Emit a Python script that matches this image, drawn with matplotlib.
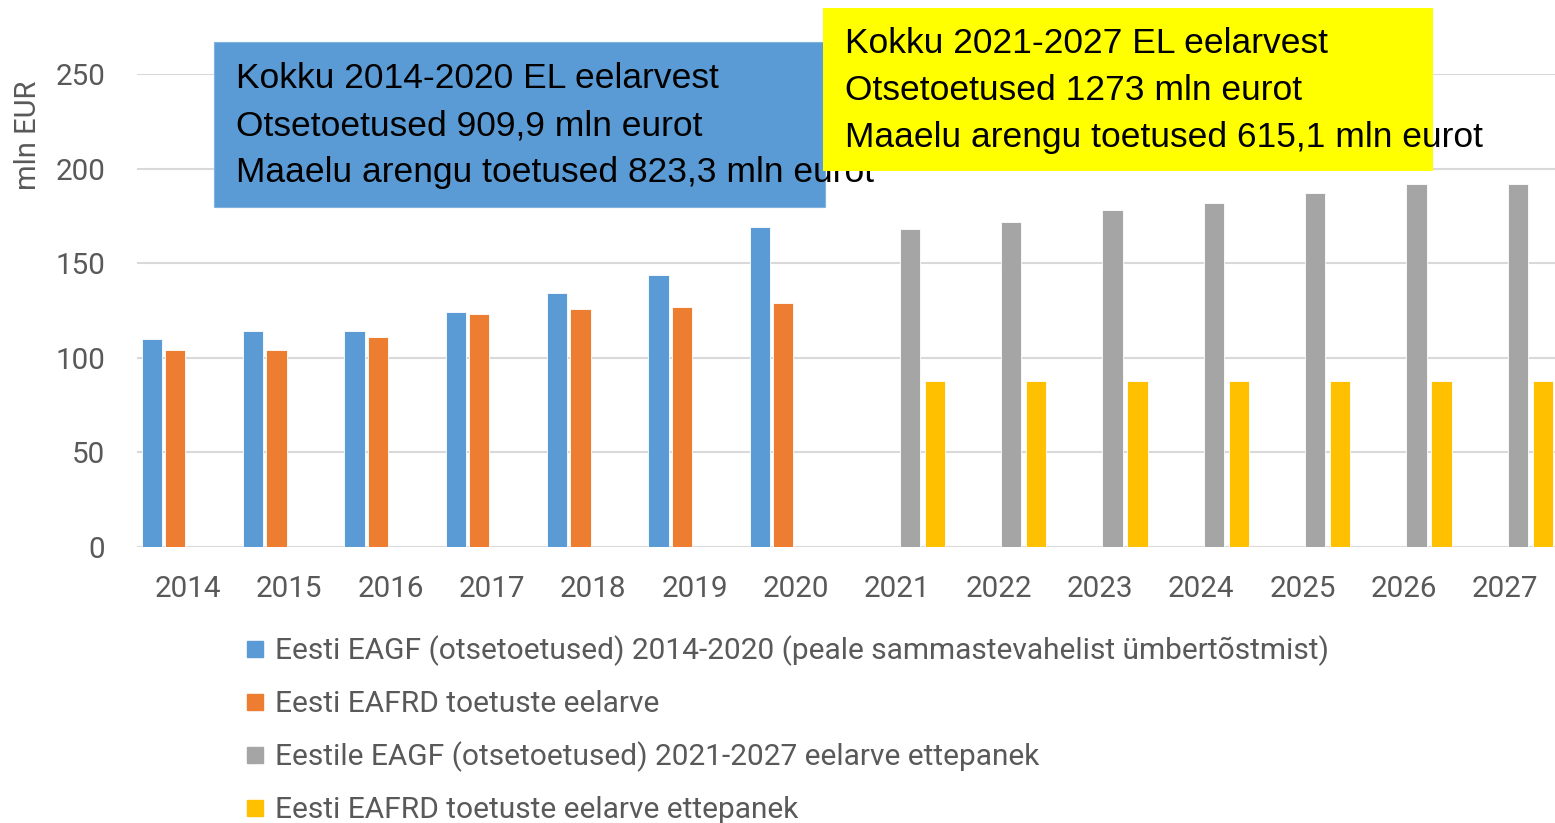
import matplotlib
matplotlib.use("Agg")
import matplotlib.pyplot as plt
from matplotlib.patches import Rectangle
import numpy as np

years = ["2014", "2015", "2016", "2017", "2018", "2019", "2020",
         "2021", "2022", "2023", "2024", "2025", "2026", "2027"]
eagf_old = [110, 114, 114, 124, 134, 144, 169, None, None, None, None, None, None, None]
eafrd_old = [104, 104, 111, 123, 126, 127, 129, None, None, None, None, None, None, None]
eagf_new = [None, None, None, None, None, None, None, 168, 172, 178, 182, 187, 192, 192]
eafrd_new = [None, None, None, None, None, None, None, 88, 88, 88, 88, 88, 88, 88]

series_labels = [
    "Eesti EAGF (otsetoetused) 2014-2020 (peale sammastevahelist ümbertõstmist)",
    "Eesti EAFRD toetuste eelarve",
    "Eestile EAGF (otsetoetused) 2021-2027 eelarve ettepanek",
    "Eesti EAFRD toetuste eelarve ettepanek",
]
series_colors = ["#5B9BD5", "#ED7D31", "#A5A5A5", "#FFC000"]
box1_lines = ["Kokku 2014-2020 EL eelarvest",
              "Otsetoetused 909,9 mln eurot",
              "Maaelu arengu toetused 823,3 mln eurot"]
box2_lines = ["Kokku 2021-2027 EL eelarvest",
              "Otsetoetused 1273 mln eurot",
              "Maaelu arengu toetused 615,1 mln eurot"]

W, H = 1555, 823
fig = plt.figure(figsize=(W / 100, H / 100), dpi=100)

def fx(px):
    return px / W

def fy(py):
    return 1 - py / H

ax = fig.add_axes([fx(137), fy(547), fx(1556) - fx(137), fy(74) - fy(547)])

x = np.arange(len(years))
offsets = [-0.355, -0.125, 0.125, 0.37]
width = 0.2
all_series = [eagf_old, eafrd_old, eagf_new, eafrd_new]
for vals, off, col, lab in zip(all_series, offsets, series_colors, series_labels):
    xs = [xi + off for xi, v in zip(x, vals) if v is not None]
    vs = [v for v in vals if v is not None]
    ax.bar(xs, vs, width=width, color=col, edgecolor="white", linewidth=0.6, zorder=3, label=lab)

ax.set_xlim(-0.5, len(years) - 0.5)
ax.set_ylim(0, 250)
ax.set_yticks([0, 50, 100, 150, 200, 250])
ax.set_xticks(x)
ax.set_xticklabels(years)
for lbl in ax.get_xticklabels() + ax.get_yticklabels():
    lbl.set_fontfamily("Roboto")
    lbl.set_fontsize(21.3)
    lbl.set_color("#595959")
ax.tick_params(axis="x", length=0, pad=20)
ax.tick_params(axis="y", length=0, pad=23)
ax.grid(axis="y", color="#D9D9D9", linewidth=1.5, zorder=0)
for s in ax.spines.values():
    s.set_visible(False)
ax.set_axisbelow(True)

fig.text(fx(28), fy(135), "mln EUR", rotation=90, ha="center", va="center",
         fontfamily="Roboto", fontsize=21, color="#595959")

# legend (manual)
for i, (col, lab) in enumerate(zip(series_colors, series_labels)):
    base = 659 + 53 * i
    fig.add_artist(Rectangle((fx(247), fy(base - 2)), fx(16), 16 / H,
                             transform=fig.transFigure, color=col))
    fig.text(fx(275), fy(base), lab, ha="left", va="baseline",
             fontfamily="Roboto", fontsize=21.5, color="#595959")

# annotation boxes
fig.add_artist(Rectangle((fx(214), fy(207)), fx(825) - fx(214), fy(42) - fy(207),
                         transform=fig.transFigure, facecolor="#5B9BD5",
                         edgecolor="#7FB2E0", linewidth=0.8, zorder=5))
for i, line in enumerate(box1_lines):
    fig.text(fx(236), fy(88 + 47 * i), line, ha="left", va="baseline",
             fontfamily="Liberation Sans", fontsize=25.5, color="black", zorder=6)
fig.add_artist(Rectangle((fx(823), fy(171)), fx(1433) - fx(823), fy(8) - fy(171),
                         transform=fig.transFigure, facecolor="#FFFF00",
                         edgecolor="none", zorder=7))
for i, line in enumerate(box2_lines):
    fig.text(fx(845), fy(53 + 47 * i), line, ha="left", va="baseline",
             fontfamily="Liberation Sans", fontsize=25.5, color="black", zorder=8)

fig.savefig("out.png", dpi=100)
